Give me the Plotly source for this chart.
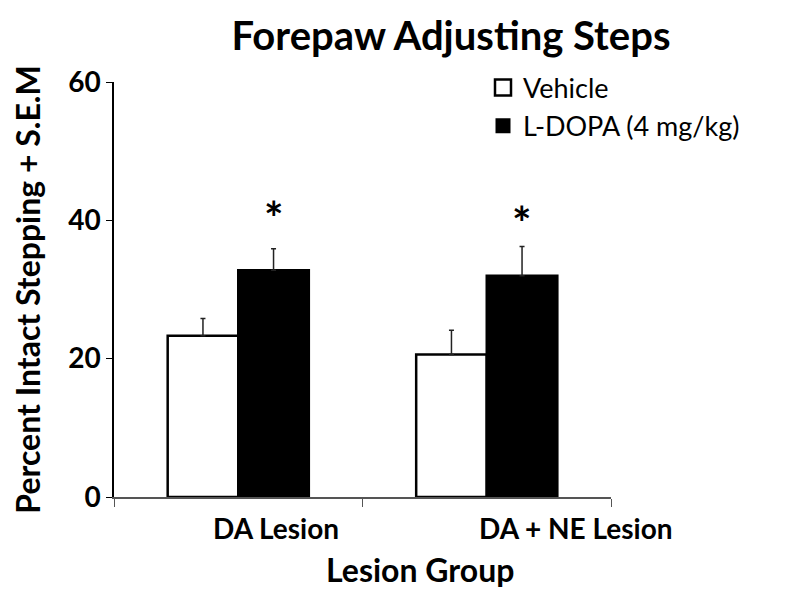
import plotly.graph_objects as go

categories = ["DA Lesion", "DA + NE Lesion"]
series_names = ["Vehicle", "L-DOPA (4 mg/kg)"]
vehicle = [23.3, 20.6]
vehicle_sem = [2.5, 3.5]
ldopa = [32.8, 32.0]
ldopa_sem = [3.1, 4.2]
sig_marks = ["*", "*"]
sig_y = [41.8, 41.1]
y_ticks = [0, 20, 40, 60]

FONT = "Lato"
W, H = 800, 602

fig = go.Figure()
fig.add_trace(go.Bar(
    x=categories, y=vehicle, name=series_names[0], showlegend=False,
    marker=dict(color="white", line=dict(color="black", width=2.5)),
    error_y=dict(type="data", array=vehicle_sem, arrayminus=[0, 0], symmetric=False,
                 color="#222", thickness=1.5, width=2.5),
))
fig.add_trace(go.Bar(
    x=categories, y=ldopa, name=series_names[1], showlegend=False,
    marker=dict(color="black", line=dict(color="black", width=2.5)),
    error_y=dict(type="data", array=ldopa_sem, arrayminus=[0, 0], symmetric=False,
                 color="#222", thickness=1.5, width=2.5),
))
# legend entries
fig.add_trace(go.Scatter(x=[None], y=[None], mode="markers", name=series_names[0],
                         legendgroup="a",
                         marker=dict(symbol="square", size=16, color="white",
                                     line=dict(color="black", width=2.5))))
fig.add_trace(go.Scatter(x=[None], y=[None], mode="markers", name=series_names[1],
                         legendgroup="b",
                         marker=dict(symbol="square", size=15, color="black",
                                     line=dict(color="black", width=0))))

annotations = []
label_shift = [38, 89]
for cat, s in zip(categories, label_shift):
    annotations.append(dict(x=cat, xref="x", y=0, yref="y", yshift=-12, xshift=s,
                            text=cat, showarrow=False, yanchor="top",
                            font=dict(family=FONT, size=28, color="black", weight="bold")))
for cat, m, yv in zip(categories, sig_marks, sig_y):
    annotations.append(dict(x=cat, xref="x", y=yv, yref="y", xshift=35.3, yshift=-9.5,
                            text=m, showarrow=False, yanchor="middle",
                            font=dict(family=FONT, size=46, color="black", weight="bold")))
annotations.append(dict(x=(412 - 106) / 497, xref="paper", y=-0.175, yref="paper",
                        text="Lesion Group", showarrow=False, yanchor="middle",
                        font=dict(family=FONT, size=32, color="black", weight="bold")))

fig.update_layout(
    width=W, height=H,
    paper_bgcolor="white", plot_bgcolor="white",
    margin=dict(l=106, r=197, t=74, b=113, autoexpand=False),
    barmode="group", bargap=0.432, bargroupgap=0,
    title=dict(text="Forepaw Adjusting Steps", x=443 / W, xanchor="center",
               xref="container", y=1 - 28 / H, yanchor="middle", yref="container",
               font=dict(family=FONT, size=40, color="black", weight="bold")),
    legend=dict(x=475 / W, y=1 - 55.5 / H, xref="container", yref="container",
                xanchor="left", yanchor="top",
                traceorder="grouped", tracegroupgap=0,
                font=dict(family=FONT, size=27, color="black"),
                bgcolor="rgba(0,0,0,0)"),
    annotations=annotations,
    xaxis=dict(range=[-0.5, len(categories) - 0.5], showticklabels=False,
               showline=True, linecolor="#555", linewidth=1.5,
               ticks="outside", tickson="boundaries", ticklen=8, tickcolor="#555",
               showgrid=False, zeroline=False, automargin=False),
    yaxis=dict(range=[0, 60], tickvals=y_ticks, showline=True, linecolor="black",
               linewidth=1.5, ticks="outside", ticklen=6, tickcolor="black",
               showgrid=False, zeroline=False, automargin=False,
               tickfont=dict(family=FONT, size=28, color="black", weight="bold"),
               title=dict(text="Percent Intact Stepping + S.E.M", standoff=30,
                          font=dict(family=FONT, size=32, color="black", weight="bold"))),
)

fig.write_html("out.html")
